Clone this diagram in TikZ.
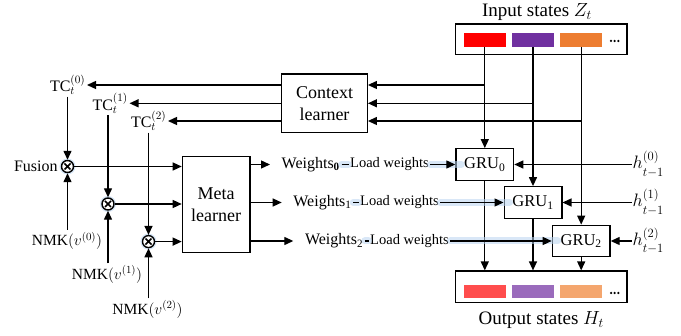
\documentclass[tikz,border=0pt]{standalone}
\usepackage{fix-cm}
\usepackage{fontspec}
\setmainfont{Liberation Serif}
\usetikzlibrary{arrows.meta,calc}
\definecolor{zred}{HTML}{FF0000}
\definecolor{zpur}{HTML}{7030A0}
\definecolor{zora}{HTML}{ED7D31}
\definecolor{hred}{HTML}{FF4D4D}
\definecolor{hpur}{HTML}{9A6BBC}
\definecolor{hora}{HTML}{F4A66E}
\definecolor{glowc}{RGB}{185,212,240}
\newcommand\hstate[1]{$h^{\raisebox{1.5pt}{$\scriptstyle(#1)$}}_{\raisebox{-3pt}{$\scriptstyle t-1$}}$}
\begin{document}
\begin{tikzpicture}[x=1pt,y=-1pt,
  lw/.style={line width=1.3pt},
  arr/.style={lw,-{Triangle[length=9pt,width=8pt]}},
  box/.style={draw,lw,rectangle,inner sep=0pt,align=center,fill=white},
  cell/.style={rectangle,inner sep=0pt,minimum width=41.7pt,minimum height=13.4pt},
  grubox/.style={box,minimum width=57.7pt,minimum height=31.5pt,font=\fontsize{16.5}{20}\selectfont},
  otimesnode/.style={circle,draw,fill=white,minimum size=12pt,inner sep=0pt,line width=1.4pt,
     preaction={draw=glowc,line width=4pt,opacity=0.6},
     path picture={\draw[line width=1.6pt]
       ($(path picture bounding box.center)+(-3pt,-3pt)$) -- ($(path picture bounding box.center)+(3pt,3pt)$)
       ($(path picture bounding box.center)+(-3pt,3pt)$) -- ($(path picture bounding box.center)+(3pt,-3pt)$);}},
  tclab/.style={anchor=east,inner sep=1.5pt,font=\fontsize{16}{19}\selectfont},
  nmklab/.style={inner sep=2pt,font=\fontsize{15.5}{18}\selectfont},
  wlab/.style={anchor=west,inner sep=1.5pt,font=\fontsize{16}{19}\selectfont},
  loadlab/.style={anchor=west,inner sep=1.5pt,font=\fontsize{14.5}{17}\selectfont},
  hlab/.style={anchor=west,inner sep=1pt,font=\fontsize{18}{21}\selectfont},
  glow/.style={draw=glowc,line width=7pt,opacity=0.55,line cap=round},
  bigtext/.style={font=\fontsize{19}{22}\selectfont}
]
\useasboundingbox (0,0) rectangle (681,336);

% ---------------- input / output boxes
\node[box,minimum width=171.3pt,minimum height=30.7pt] (inbox) at (541.3,39.3) {};
\node[cell,fill=zred] (zr) at (484.8,40) {};
\node[cell,fill=zpur] (zp) at (533,40) {};
\node[cell,fill=zora] (zo) at (581.2,40) {};
\foreach \xx in {611,614.7,618.4} \fill (\xx,41) circle (1.25pt);
\node[bigtext] (inlab) at (537,12) {Input states $Z_t$};

\node[box,minimum width=171.3pt,minimum height=31.3pt] (outbox) at (541.3,286.7) {};
\node[cell,fill=hred] (hr) at (484.8,291.7) {};
\node[cell,fill=hpur] (hp) at (533,291.7) {};
\node[cell,fill=hora] (ho) at (581.2,291.7) {};
\foreach \xx in {611,614.7,618.4} \fill (\xx,293) circle (1.25pt);
\node[bigtext] (outlab) at (541.3,320) {Output states $H_t$};

% ---------------- context learner
\node[box,minimum width=85.6pt,minimum height=58.7pt,font=\fontsize{18}{22}\selectfont] (ctx) at (324.5,103.3) {Context\\learner};
\coordinate (r0) at (0,85);
\coordinate (r1) at (0,103.3);
\coordinate (r2) at (0,121);

% ---------------- GRUs
\node[grubox] (g0) at (484.8,164.5) {GRU\textsubscript{0}};
\node[grubox] (g1) at (533,202.5) {GRU\textsubscript{1}};
\node[grubox] (g2) at (581.2,241) {GRU\textsubscript{2}};

\draw[arr] (zr.south) -- (g0.north);
\draw[arr] (zp.south) -- (g1.north);
\draw[arr] (zo.south) -- (g2.north);
\draw[arr] (zr.south |- r0) -- (ctx.east |- r0);
\draw[arr] (zp.south |- r1) -- (ctx.east |- r1);
\draw[arr] (zo.south |- r2) -- (ctx.east |- r2);

\draw[arr] (g0.south) -- (g0.south |- outbox.north);
\draw[arr] (g1.south) -- (g1.south |- outbox.north);
\draw[arr] (g2.south) -- (g2.south |- outbox.north);

% ---------------- hidden states
\node[hlab] (h0) at (631.5,164.5) {\hstate{0}};
\node[hlab] (h1) at (631.5,202.5) {\hstate{1}};
\node[hlab] (h2) at (631.5,241) {\hstate{2}};
\draw[arr] (h0.west) -- (g0.east);
\draw[arr] (h1.west) -- (g1.east);
\draw[arr] (h2.west) -- (g2.east);

% ---------------- TC labels
\node[tclab] (tc0) at (87,85) {TC$_t^{(0)}$};
\node[tclab] (tc1) at (129.5,103.3) {TC$_t^{(1)}$};
\node[tclab] (tc2) at (168,121) {TC$_t^{(2)}$};
\draw[arr] (ctx.west |- r0) -- (tc0.east);
\draw[arr] (ctx.west |- r1) -- (tc1.east);
\draw[arr] (ctx.west |- r2) -- (tc2.east);

% ---------------- meta learner
\node[box,minimum width=67.7pt,minimum height=96pt,font=\fontsize{18}{22.5}\selectfont] (meta) at (216.2,204.7) {Meta\\learner};

% ---------------- fusion circles
\node[otimesnode] (c0) at (67.5,166.5) {};
\node[otimesnode] (c1) at (108,204) {};
\node[otimesnode] (c2) at (148.5,241.6) {};
\node[anchor=east,inner sep=3pt,font=\fontsize{16}{19}\selectfont] (fus) at (c0.west) {Fusion};

\draw[arr] (c0 |- tc0.south) -- (c0.north);
\draw[arr] (c1 |- tc1.south) -- (c1.north);
\draw[arr] (c2 |- tc2.south) -- (c2.north);

\node[nmklab] (n0) at (67,241) {NMK$(v^{(0)})$};
\node[nmklab] (n1) at (107,274.5) {NMK$(v^{(1)})$};
\node[nmklab] (n2) at (147.5,309.5) {NMK$(v^{(2)})$};
\draw[arr] (c0 |- n0.north) -- (c0.south);
\draw[arr] (c1 |- n1.north) -- (c1.south);
\draw[arr] (c2 |- n2.north) -- (c2.south);

\draw[arr] (c0.east) -- (meta.west |- c0);
\draw[arr] (c1.east) -- (meta.west |- c1);
\draw[arr] (c2.east) -- (meta.west |- c2);

% ---------------- weights
\node[wlab] (w0) at (280,164.5) {Weights\textsubscript{\textbf{0}}};
\node[wlab] (w1) at (291.7,202.5) {Weights\textsubscript{1}};
\node[wlab] (w2) at (303.3,241) {Weights\textsubscript{2}};
\node[loadlab] (lw0) at (348.5,164.5) {Load weights};
\node[loadlab] (lw1) at (358.5,202.5) {Load weights};
\node[loadlab] (lw2) at (368.5,241) {Load weights};

\draw[arr,shorten >=10pt] (meta.east |- w0.west) -- (w0.west);
\draw[arr,shorten >=10pt] (meta.east |- w1.west) -- (w1.west);
\draw[arr,shorten >=10pt] (meta.east |- w2.west) -- (w2.west);

% glow
\draw[glow] (w0.east) -- (lw0.west);
\draw[glow] (w1.east) -- (lw1.west);
\draw[glow] (w2.east) -- (lw2.west);
\draw[glow] (lw0.east) -- ([xshift=6pt]g0.west);
\draw[glow] (lw1.east) -- ([xshift=6pt]g1.west);
\draw[glow] (lw2.east) -- ([xshift=6pt]g2.west);

\draw[lw] (w0.east) -- (lw0.west);
\draw[lw] (w1.east) -- (lw1.west);
\draw[lw] (w2.east) -- (lw2.west);
\draw[arr] (lw0.east) -- (g0.west);
\draw[arr] (lw1.east) -- (g1.west);
\draw[arr] (lw2.east) -- (g2.west);
\end{tikzpicture}
\end{document}
